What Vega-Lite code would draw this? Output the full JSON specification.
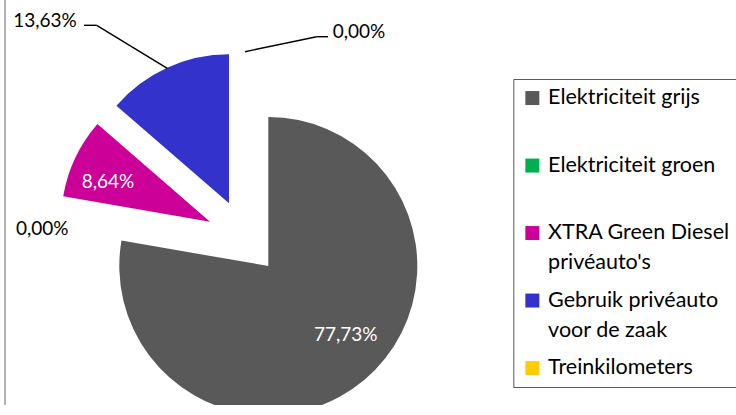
{
  "$schema": "https://vega.github.io/schema/vega-lite/v6.json",
  "width": 736,
  "height": 415,
  "autosize": "none",
  "padding": {"left": 5, "top": -5, "right": -5, "bottom": -5},
  "background": "white",
  "config": {
    "view": {"stroke": null},
    "font": "Lato",
    "style": {"guide-label": {"lineHeight": 30}},
    "locale": {"number": {"decimal": ",", "thousands": ".", "grouping": [3], "currency": ["€", ""]}}
  },
  "data": {
    "values": [
      {"categorie": "Elektriciteit grijs", "aandeel": 0.7773},
      {"categorie": "Elektriciteit groen", "aandeel": 0.0},
      {"categorie": "XTRA Green Diesel privéauto's", "aandeel": 0.0864},
      {"categorie": "Gebruik privéauto voor de zaak", "aandeel": 0.1363},
      {"categorie": "Treinkilometers", "aandeel": 0.0}
    ]
  },
  "transform": [{"window": [{"op": "row_number", "as": "volgorde"}]}],
  "layer": [
    {
      "transform": [{"filter": "datum.volgorde === 1"}],
      "mark": {"type": "rule", "color": "#a0a0a0", "strokeWidth": 1.6},
      "encoding": {"x": {"value": 0}, "y": {"value": 0}, "y2": {"value": 425}}
    },
    {
      "mark": {"type": "arc", "x": 263.3, "y": 271, "radius": 149},
      "encoding": {
        "theta": {"field": "aandeel", "type": "quantitative", "stack": true},
        "order": {"field": "volgorde", "type": "quantitative"},
        "color": {
          "field": "categorie",
          "type": "nominal",
          "scale": {
            "domain": ["Elektriciteit grijs", "Elektriciteit groen", "XTRA Green Diesel privéauto's", "Gebruik privéauto voor de zaak", "Treinkilometers"],
            "range": ["#595959", "#00B050", "#CC0099", "#3333CC", "#FFCC00"]
          },
          "legend": {
            "orient": "none",
            "legendX": 508.3,
            "legendY": 84,
            "title": null,
            "padding": 8.3,
            "strokeColor": "#595959",
            "symbolType": "square",
            "symbolSize": 196,
            "symbolStrokeWidth": 0,
            "symbolOffset": 0,
            "labelOffset": 5,
            "labelFont": "Lato",
            "labelFontSize": 21.5,
            "labelColor": "#000000",
            "labelLimit": 400,
            "gridAlign": "all",
            "rowPadding": 14.5,
            "labelExpr": "datum.label == \"XTRA Green Diesel privéauto's\" ? ['XTRA Green Diesel      ', \"privéauto's\"] : datum.label == 'Gebruik privéauto voor de zaak' ? ['Gebruik privéauto', 'voor de zaak'] : datum.label",
            "encode": {"labels": {"lineHeight": {"value": 30}}}
          }
        },
        "opacity": {"condition": {"test": "datum.volgorde === 1", "value": 1}, "value": 0}
      }
    },
    {
      "mark": {"type": "arc", "x": 205, "y": 226.7, "radius": 149},
      "encoding": {
        "theta": {"field": "aandeel", "type": "quantitative", "stack": true},
        "order": {"field": "volgorde", "type": "quantitative"},
        "color": {"field": "categorie", "type": "nominal"},
        "opacity": {"condition": {"test": "datum.volgorde === 3", "value": 1}, "value": 0}
      }
    },
    {
      "mark": {"type": "arc", "x": 224, "y": 208.3, "radius": 149},
      "encoding": {
        "theta": {"field": "aandeel", "type": "quantitative", "stack": true},
        "order": {"field": "volgorde", "type": "quantitative"},
        "color": {"field": "categorie", "type": "nominal"},
        "opacity": {"condition": {"test": "datum.volgorde === 4", "value": 1}, "value": 0}
      }
    },
    {
      "mark": {"type": "text", "x": 263.3, "y": 271, "radius": 100, "dx": 13, "dy": -8, "color": "#ffffff", "font": "Lato", "fontSize": 19},
      "encoding": {
        "theta": {"field": "aandeel", "type": "quantitative", "stack": true},
        "order": {"field": "volgorde", "type": "quantitative"},
        "text": {"field": "aandeel", "type": "quantitative", "format": ".2%"},
        "opacity": {"condition": {"test": "datum.volgorde === 1", "value": 1}, "value": 0}
      }
    },
    {
      "mark": {"type": "text", "x": 205, "y": 226.7, "radius": 109, "dx": -3.5, "dy": 7, "color": "#ffffff", "font": "Lato", "fontSize": 19},
      "encoding": {
        "theta": {"field": "aandeel", "type": "quantitative", "stack": true},
        "order": {"field": "volgorde", "type": "quantitative"},
        "text": {"field": "aandeel", "type": "quantitative", "format": ".2%"},
        "opacity": {"condition": {"test": "datum.volgorde === 3", "value": 1}, "value": 0}
      }
    },
    {
      "mark": {"type": "text", "x": 224, "y": 208.3, "radius": 242, "dx": -83.5, "dy": 37.5, "color": "#000000", "font": "Lato", "fontSize": 19},
      "encoding": {
        "theta": {"field": "aandeel", "type": "quantitative", "stack": true},
        "order": {"field": "volgorde", "type": "quantitative"},
        "text": {"field": "aandeel", "type": "quantitative", "format": ".2%"},
        "opacity": {"condition": {"test": "datum.volgorde === 4", "value": 1}, "value": 0}
      }
    },
    {
      "mark": {"type": "text", "x": 240.8, "y": 245.2, "radius": 202, "dx": -4.5, "dy": 23.6, "color": "#000000", "font": "Lato", "fontSize": 19},
      "encoding": {
        "theta": {"field": "aandeel", "type": "quantitative", "stack": true},
        "order": {"field": "volgorde", "type": "quantitative"},
        "text": {"field": "aandeel", "type": "quantitative", "format": ".2%"},
        "opacity": {"condition": {"test": "datum.volgorde === 2", "value": 1}, "value": 0}
      }
    },
    {
      "mark": {"type": "text", "x": 240.8, "y": 245.2, "radius": 208.5, "dx": 113.2, "dy": 0, "color": "#000000", "font": "Lato", "fontSize": 19},
      "encoding": {
        "theta": {"field": "aandeel", "type": "quantitative", "stack": true},
        "order": {"field": "volgorde", "type": "quantitative"},
        "text": {"field": "aandeel", "type": "quantitative", "format": ".2%"},
        "opacity": {"condition": {"test": "datum.volgorde === 5", "value": 1}, "value": 0}
      }
    },
    {
      "transform": [{"filter": "datum.volgorde === 4"}],
      "mark": {"type": "rule", "color": "#000000", "strokeWidth": 1.4},
      "encoding": {"x": {"value": 162.3}, "y": {"value": 73.3}, "x2": {"value": 91.7}, "y2": {"value": 30.3}}
    },
    {
      "transform": [{"filter": "datum.volgorde === 4"}],
      "mark": {"type": "rule", "color": "#000000", "strokeWidth": 1.4},
      "encoding": {"x": {"value": 91.7}, "y": {"value": 30.3}, "x2": {"value": 79}, "y2": {"value": 30.3}}
    },
    {
      "transform": [{"filter": "datum.volgorde === 5"}],
      "mark": {"type": "rule", "color": "#000000", "strokeWidth": 1.4},
      "encoding": {"x": {"value": 240}, "y": {"value": 56.7}, "x2": {"value": 311.7}, "y2": {"value": 41.7}}
    },
    {
      "transform": [{"filter": "datum.volgorde === 5"}],
      "mark": {"type": "rule", "color": "#000000", "strokeWidth": 1.4},
      "encoding": {"x": {"value": 311.7}, "y": {"value": 41.7}, "x2": {"value": 323}, "y2": {"value": 41.7}}
    }
  ]
}
